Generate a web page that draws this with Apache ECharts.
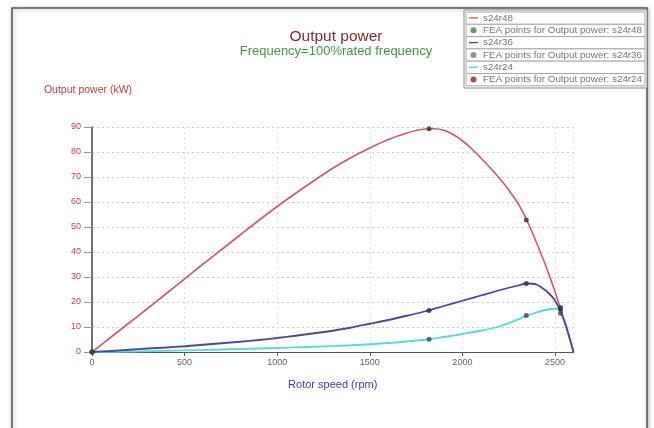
<!DOCTYPE html>
<html>
<head>
<meta charset="utf-8">
<script src="https://cdn.jsdelivr.net/npm/echarts@6/dist/echarts.min.js"></script>
<style>html,body{margin:0;padding:0;background:#fff;}#c{width:654px;height:428px;}</style>
</head>
<body>
<div id="c"></div>
<script>
// Curve s24r48
const speed48 = [0, 100, 200, 300, 400, 500, 600, 700, 800, 900, 1000, 1100, 1200, 1300, 1400, 1500, 1600, 1700, 1750, 1800, 1850, 1900, 1950, 2000, 2050, 2100, 2150, 2200, 2250, 2300, 2350, 2400, 2450, 2500, 2550, 2600];
const power48 = [0, 5.8, 11.6, 17.4, 23.3, 29.2, 35.2, 41, 46.8, 52.6, 58.2, 63.5, 68.6, 73.5, 77.8, 81.6, 85, 87.6, 88.6, 89.2, 89.3, 88.7, 87.0, 84.5, 81.3, 77.6, 73.7, 69.5, 64.8, 59.5, 52.4, 43.8, 34.5, 24.2, 12.5, 0];
// Curve s24r36
const speed36 = [0, 100, 200, 300, 400, 500, 600, 700, 800, 900, 1000, 1100, 1200, 1300, 1400, 1500, 1600, 1700, 1800, 1900, 2000, 2100, 2200, 2300, 2350, 2400, 2450, 2500, 2550, 2600];
const power36 = [0, 0.4, 0.9, 1.4, 1.8, 2.3, 2.9, 3.5, 4.1, 4.8, 5.6, 6.5, 7.5, 8.5, 9.8, 11.3, 12.8, 14.5, 16.3, 18.4, 20.5, 22.6, 24.7, 26.6, 27.4, 27, 24.6, 20.6, 12.5, 0];
// Curve s24r24
const speed24 = [0, 200, 400, 600, 800, 1000, 1200, 1400, 1600, 1800, 1900, 2000, 2100, 2200, 2300, 2350, 2400, 2450, 2500, 2525, 2560, 2600];
const power24 = [0, 0.2, 0.5, 0.8, 1.2, 1.6, 2.1, 2.7, 3.6, 4.9, 6, 7.2, 8.5, 10.2, 13, 14.6, 15.8, 16.8, 17.3, 16.8, 10.5, 0];
// FEA points
const feaSpeed = [0, 1820, 2345, 2530];
const fea48 = [0, 89.3, 52.8, 17.8];
const fea36 = [0, 16.6, 27.4, 17];
const fea24 = [0, 5.1, 14.6, 15.5];
// Axis ticks
const xTicks = [0, 500, 1000, 1500, 2000, 2500];
const yTicks = [0, 10, 20, 30, 40, 50, 60, 70, 80, 90];
const seriesNames = ['s24r48', 'FEA points for Output power: s24r48', 's24r36', 'FEA points for Output power: s24r36', 's24r24', 'FEA points for Output power: s24r24'];

const zip = (a, b) => a.map((v, i) => [v, b[i]]);

const chart = echarts.init(document.getElementById('c'), null, {renderer: 'canvas'});

const rowH = 12.3;
const legendRows = seriesNames.map((n, i) => ({
  type: 'rect', z: 1,
  shape: {x: 466, y: 12 + i * rowH, width: 179, height: rowH},
  style: {fill: '#fff', stroke: '#aaa', lineWidth: 1}
}));
const lineIcon = 'path://M0,0 L20,0 L20,3 L0,3 Z';

chart.setOption({
  animation: false,
  backgroundColor: '#fff',
  graphic: [
    {type: 'rect', z: 0, shape: {x: 12, y: 8, width: 635, height: 430},
     style: {fill: '#fff', stroke: '#555', lineWidth: 1.5, shadowBlur: 4, shadowColor: 'rgba(0,0,0,0.3)', shadowOffsetX: 1, shadowOffsetY: 1}},
    {type: 'rect', z: 1, shape: {x: 464, y: 10, width: 183, height: 78},
     style: {fill: '#fff', stroke: '#888', lineWidth: 1}}
  ].concat(legendRows),
  title: {
    text: 'Output power',
    subtext: 'Frequency=100%rated frequency',
    left: 331, top: 24, textAlign: 'center', itemGap: 0,
    textStyle: {fontFamily: 'Liberation Sans', fontSize: 15.5, fontWeight: 'normal', color: '#8b2a2a'},
    subtextStyle: {fontFamily: 'Liberation Sans', fontSize: 13, color: '#3f9a3f'}
  },
  legend: {
    orient: 'vertical', left: 469, top: 13, padding: 0,
    itemGap: 2.3, itemWidth: 9, itemHeight: 6, z: 5,
    textStyle: {fontFamily: 'Liberation Sans', fontSize: 9.8, color: '#777', lineHeight: 10},
    data: [
      {name: seriesNames[0], icon: lineIcon},
      {name: seriesNames[1], itemStyle: {color: '#2e8b3e'}},
      {name: seriesNames[2], icon: lineIcon},
      {name: seriesNames[3], itemStyle: {color: '#777'}},
      {name: seriesNames[4], icon: lineIcon},
      {name: seriesNames[5], itemStyle: {color: '#a02020'}}
    ]
  },
  grid: {left: 92, right: 80.5, top: 127, bottom: 76, show: true, borderColor: '#999', borderWidth: 1, backgroundColor: 'transparent'},
  xAxis: {
    type: 'value', min: 0, max: 2600, interval: 500,
    name: 'Rotor speed (rpm)', nameLocation: 'middle', nameGap: 27,
    nameTextStyle: {fontFamily: 'Liberation Sans', fontSize: 11, color: '#3a3ac0'},
    axisLine: {show: true, lineStyle: {color: '#555', width: 1}},
    axisTick: {show: true, length: 4, lineStyle: {color: '#555'}},
    axisLabel: {showMaxLabel: false, fontFamily: 'Liberation Sans', fontSize: 9, color: '#666', margin: 6,
      formatter: v => xTicks.includes(v) ? String(v) : ''},
    splitLine: {show: true, lineStyle: {color: '#ddd', type: [2, 3], width: 1}}
  },
  yAxis: {
    type: 'value', min: 0, max: 90, interval: 10,
    name: 'Output power (kW)', nameLocation: 'end', nameGap: 31,
    nameTextStyle: {fontFamily: 'Liberation Sans', fontSize: 10.5, color: '#d03a3a', padding: [0, 0, 0, -8]},
    axisLine: {show: true, lineStyle: {color: '#444', width: 1.5}},
    axisTick: {show: true, length: 8, lineStyle: {color: '#999'}},
    axisLabel: {fontFamily: 'Liberation Sans', fontSize: 9, color: '#d04040', margin: 11,
      formatter: v => yTicks.includes(v) ? String(v) : ''},
    splitLine: {show: true, lineStyle: {color: '#ccc', type: [2, 3], width: 1}}
  },
  series: [
    {name: seriesNames[0], type: 'line', data: zip(speed48, power48), smooth: 0.3, symbol: 'none',
     lineStyle: {color: '#d45a5a', width: 1.6}, itemStyle: {color: '#d45a5a'}, z: 3},
    {name: seriesNames[1], type: 'scatter', data: zip(feaSpeed, fea48), symbol: 'circle', symbolSize: 5,
     itemStyle: {color: '#3a3030'}, z: 6},
    {name: seriesNames[2], type: 'line', data: zip(speed36, power36), smooth: 0.3, symbol: 'none',
     lineStyle: {color: '#4b46a8', width: 1.8}, itemStyle: {color: '#4b46a8'}, z: 4},
    {name: seriesNames[3], type: 'scatter', data: zip(feaSpeed, fea36), symbol: 'circle', symbolSize: 5,
     itemStyle: {color: '#303048'}, z: 6},
    {name: seriesNames[4], type: 'line', data: zip(speed24, power24), smooth: 0.3, symbol: 'none',
     lineStyle: {color: '#56dcd6', width: 1.8}, itemStyle: {color: '#56dcd6'}, z: 3},
    {name: seriesNames[5], type: 'scatter', data: zip(feaSpeed, fea24), symbol: 'circle', symbolSize: 5,
     itemStyle: {color: '#3a4a48'}, z: 6}
  ]
});
</script>
</body>
</html>
